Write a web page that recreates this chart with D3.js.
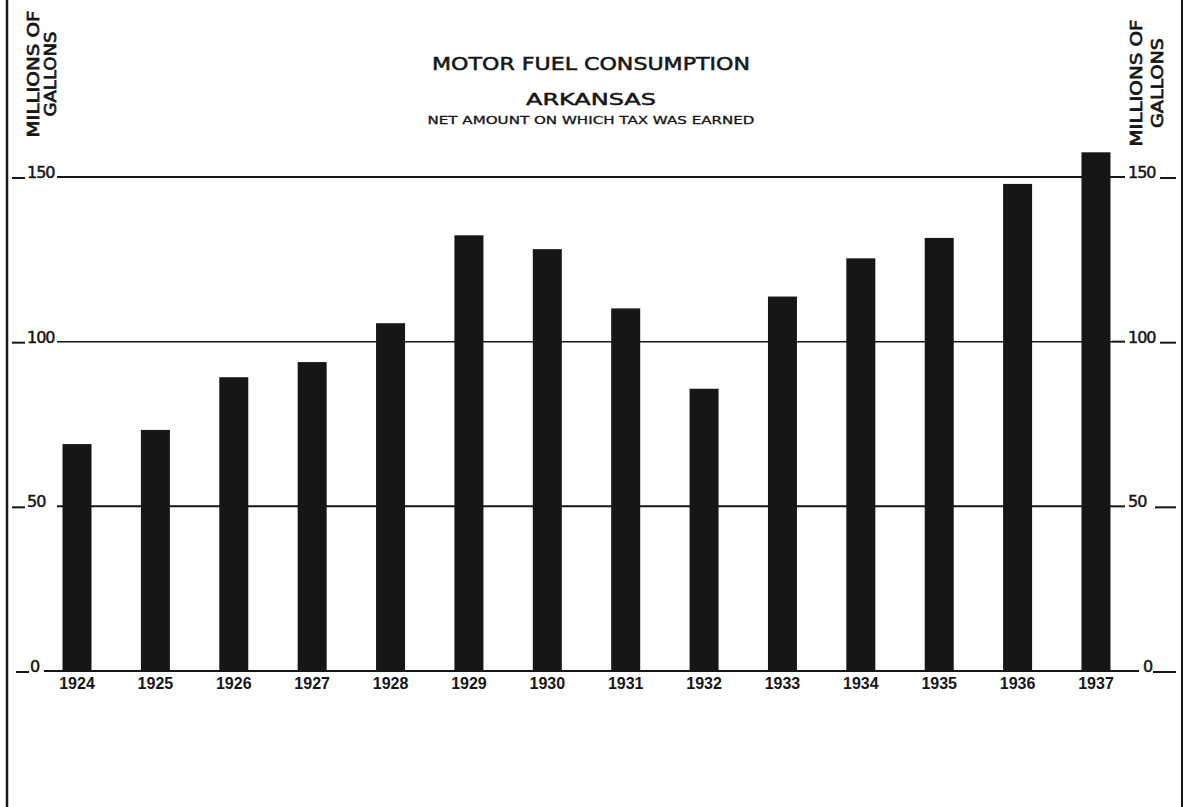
<!DOCTYPE html>
<html>
<head>
<meta charset="utf-8">
<script src="https://cdn.jsdelivr.net/npm/d3@7"></script>
<style>
  html, body { margin: 0; padding: 0; background: #fff; }
  svg { display: block; }
</style>
</head>
<body>
<svg id="chart" width="1188" height="807"></svg>
<script>
// ---- data ----
const years = ["1924","1925","1926","1927","1928","1929","1930","1931","1932","1933","1934","1935","1936","1937"];
const values = [68.9, 73.2, 89.2, 93.8, 105.6, 132.3, 128.1, 110.1, 85.7, 113.7, 125.3, 131.5, 147.9, 157.5];
const yTickValues = [0, 50, 100, 150];
const titleLines = ["MOTOR FUEL CONSUMPTION", "ARKANSAS", "NET AMOUNT ON WHICH TAX WAS EARNED"];
const axisTitleLines = ["MILLIONS OF", "GALLONS"];

// ---- layout ----
const W = 1188, H = 807;
const ink = "#161616";
const svg = d3.select("#chart");

const x = d3.scaleBand().domain(years).range([39, 1134]).paddingInner(0.63).paddingOuter(0.3);
const y = d3.scaleLinear().domain([0, 150]).range([671, 177]);

// frame side lines
svg.append("line").attr("x1", 7).attr("x2", 7).attr("y1", 0).attr("y2", H)
  .attr("stroke", ink).attr("stroke-width", 2.5);
svg.append("line").attr("x1", 1182).attr("x2", 1182).attr("y1", 0).attr("y2", H)
  .attr("stroke", ink).attr("stroke-width", 2);

// gridlines
const gridL = 57, gridR = 1112;
const grid = svg.append("g");
grid.selectAll("line").data(yTickValues).join("line")
  .attr("x1", d => d === 0 ? 44 : gridL)
  .attr("x2", d => d === 0 ? 1139 : gridR)
  .attr("y1", d => y(d)).attr("y2", d => y(d))
  .attr("stroke", ink)
  .attr("stroke-width", d => d === 100 ? 1.5 : 2);

const labelFont = "'DejaVu Sans', sans-serif";

// left tick labels with dashes
const leftAxis = svg.append("g");
const lt = leftAxis.selectAll("g").data(yTickValues).join("g")
  .attr("transform", d => `translate(0,${y(d)})`);
lt.append("line").attr("x1", d => d === 0 ? 16 : 12).attr("x2", d => d === 0 ? 29 : 25)
  .attr("y1", 1).attr("y2", 1).attr("stroke", ink).attr("stroke-width", 2);
lt.append("text")
  .attr("x", d => d === 0 ? 30 : 27).attr("y", 1)
  .attr("font-family", labelFont).attr("font-size", 16)
  .attr("fill", ink).attr("stroke", ink).attr("stroke-width", 0.5)
  .attr("letter-spacing", -1)
  .text(d => d3.format("d")(d));

// right tick labels with dashes
const rightAxis = svg.append("g");
const rt = rightAxis.selectAll("g").data(yTickValues).join("g")
  .attr("transform", d => `translate(0,${y(d)})`);
rt.filter(d => d !== 0).append("line").attr("x1", gridR).attr("x2", 1125)
  .attr("y1", 0).attr("y2", 0).attr("stroke", ink).attr("stroke-width", 2);
rt.append("text")
  .attr("x", d => d === 0 ? 1143 : 1128).attr("y", 1)
  .attr("font-family", labelFont).attr("font-size", 16)
  .attr("fill", ink).attr("stroke", ink).attr("stroke-width", 0.5)
  .attr("letter-spacing", -1)
  .text(d => d3.format("d")(d));
rt.append("line")
  .attr("x1", d => d === 0 ? 1153 : (d === 50 ? 1155 : 1160))
  .attr("x2", 1176)
  .attr("y1", 1).attr("y2", 1).attr("stroke", ink).attr("stroke-width", 2);

// bars
svg.append("g").selectAll("rect").data(years).join("rect")
  .attr("x", d => x(d))
  .attr("width", x.bandwidth())
  .attr("y", (d, i) => y(values[i]))
  .attr("height", (d, i) => y(0) - y(values[i]))
  .attr("fill", ink);

// year labels
svg.append("g").selectAll("text").data(years).join("text")
  .attr("x", d => x(d) + x.bandwidth() / 2)
  .attr("y", 689)
  .attr("text-anchor", "middle")
  .attr("font-family", "'Liberation Sans', Arial, sans-serif")
  .attr("font-weight", "bold").attr("font-size", 16)
  .attr("fill", ink)
  .text(d => d);

// titles
const tSpecs = [
  {y: 70, size: 17, len: 318},
  {y: 105, size: 16, len: 130},
  {y: 124, size: 10.5, len: 327}
];
svg.append("g").selectAll("text").data(titleLines).join("text")
  .attr("x", 591)
  .attr("y", (d, i) => tSpecs[i].y)
  .attr("text-anchor", "middle")
  .attr("font-family", labelFont)
  .attr("font-size", (d, i) => tSpecs[i].size)
  .attr("textLength", (d, i) => tSpecs[i].len)
  .attr("lengthAdjust", "spacingAndGlyphs")
  .attr("fill", ink).attr("stroke", ink).attr("stroke-width", (d, i) => i === 2 ? 0.3 : 0.5)
  .text(d => d);

// rotated axis titles
function axisTitle(bx1, bx2, cy, lens) {
  const g = svg.append("g");
  g.selectAll("text").data(axisTitleLines).join("text")
    .attr("transform", (d, i) => `translate(${i === 0 ? bx1 : bx2},${cy}) rotate(-90)`)
    .attr("text-anchor", "middle")
    .attr("font-family", labelFont)
    .attr("font-size", 16)
    .attr("textLength", (d, i) => lens[i])
    .attr("lengthAdjust", "spacingAndGlyphs")
    .attr("fill", ink).attr("stroke", ink).attr("stroke-width", 0.7)
    .text(d => d);
}
axisTitle(39, 56, 74, [127, 85]);
axisTitle(1142, 1163, 83, [127, 90]);
</script>
</body>
</html>
